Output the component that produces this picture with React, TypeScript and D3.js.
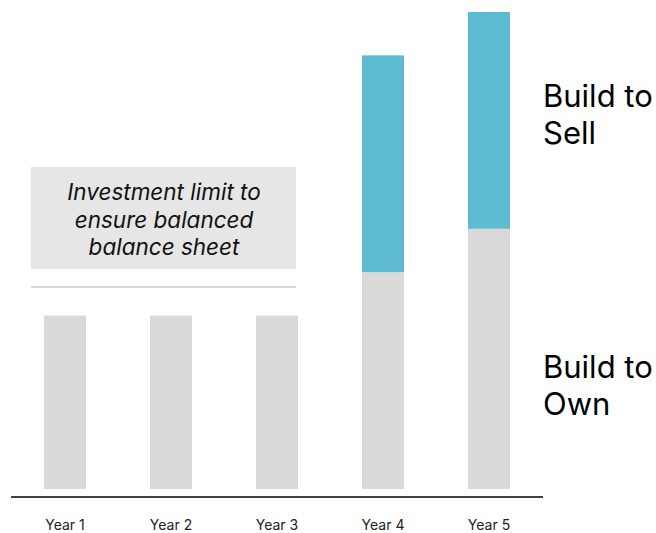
import React from "react";
import * as d3 from "d3";

const years = ["Year 1", "Year 2", "Year 3", "Year 4", "Year 5"];
const buildToOwn = [4, 4, 4, 5, 6];
const buildToSell = [0, 0, 0, 5, 5];
const investmentLimit = 4.66;
const annotationLines = ["Investment limit to", "ensure balanced", "balance sheet"];
const seriesLabels = [
  ["Build to", "Sell"],
  ["Build to", "Own"],
];

const W = 656;
const H = 533;
const GREY = "#d9d9d9";
const TEAL = "#5dbcd2";
const FONT = "Inter, 'Open Sans', sans-serif";

export default function App() {
  const x = d3.scalePoint<string>().domain(years).range([65, 489]);
  const y = d3.scaleLinear().domain([0, 11]).range([489, 12]);
  const bw = 42;
  const limitY = y(investmentLimit);
  const labelBaselines = [107, 378];

  return (
    <svg width={W} height={H} style={{ position: "absolute", left: 0, top: 0 }}>
      <rect width={W} height={H} fill="#fff" />
      {years.map((yr, i) => {
        const cx = x(yr)!;
        const own = buildToOwn[i];
        const sell = buildToSell[i];
        return (
          <g key={yr}>
            <rect x={cx - bw / 2} y={y(own)} width={bw} height={y(0) - y(own)} fill={GREY} />
            {sell > 0 && (
              <rect x={cx - bw / 2} y={y(own + sell)} width={bw} height={y(own) - y(own + sell)} fill={TEAL} />
            )}
            <text x={cx} y={530} textAnchor="middle" fontFamily={FONT} fontSize={14} fill="#222">
              {yr}
            </text>
          </g>
        );
      })}
      <line x1={11} x2={543} y1={497} y2={497} stroke="#000" strokeWidth={1.5} />
      <line x1={31} x2={296} y1={limitY} y2={limitY} stroke="#c8c8c8" strokeWidth={1.5} />
      <rect x={31} y={167} width={265} height={102} fill="#e6e6e6" />
      {annotationLines.map((t, i) => (
        <text key={t} x={164} y={200 + i * 27.5} textAnchor="middle" fontFamily={FONT} fontStyle="italic" fontSize={22.5} fill="#111">
          {t}
        </text>
      ))}
      {seriesLabels.map((lines, k) => (
        <g key={k}>
          {lines.map((t, i) => (
            <text key={i} x={543} y={labelBaselines[k] + i * 37} fontFamily={FONT} fontSize={31} fill="#000">
              {t}
            </text>
          ))}
        </g>
      ))}
    </svg>
  );
}
